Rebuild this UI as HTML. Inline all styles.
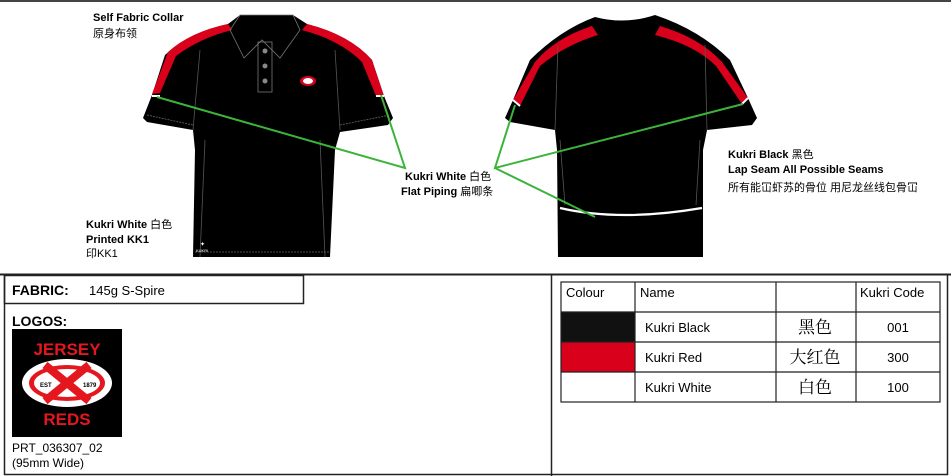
<!DOCTYPE html>
<html><head><meta charset="utf-8"><style>
body{margin:0;background:#fff;width:951px;height:476px;overflow:hidden;font-family:"Liberation Sans","Noto Sans CJK SC",sans-serif}
svg{position:absolute;left:0;top:0}
</style></head><body>
<svg width="951" height="476" viewBox="0 0 951 476" xmlns="http://www.w3.org/2000/svg" font-family="Liberation Sans, Noto Sans CJK SC, sans-serif">
<rect x="0" y="0" width="951" height="2" fill="#444"/>
<!-- FRONT SHIRT -->
<path d="M228,24 L240,15 L293,15 L307,24 Q350,35 372,60 L384,96 L393,118 L388,125 L340,132 L335,150 L330,257 L193,257 L195,150 L193,130 L147,122 L143,118 L152,95 L165,55 Q190,32 228,24 Z" fill="#000"/>
<path d="M228,24 Q190,32 168,52 L152,94 L160,93 L176,56 Q200,38 232,30 Z" fill="#d9001b"/>
<path d="M307,24 Q350,35 372,60 L384,96 L376,96 L362,62 Q340,40 302,30 Z" fill="#d9001b"/>
<path d="M240,15 L293,15 L300,30 L280,58 L262,40 L244,58 L230,30 Z" fill="none" stroke="#777" stroke-width="0.8"/>
<rect x="258" y="42" width="14" height="50" fill="none" stroke="#777" stroke-width="0.8"/>
<circle cx="265" cy="51" r="2.5" fill="#888"/><circle cx="265" cy="66" r="2.5" fill="#888"/><circle cx="265" cy="81" r="2.5" fill="#888"/>
<path d="M193,130 L200,50 M340,130 L335,50 M200,257 L205,140 M325,257 L320,140" stroke="#555" stroke-width="0.8" fill="none"/>
<path d="M147,115 L193,125 M340,125 L390,115 M195,252 L330,252" stroke="#666" stroke-width="0.8" stroke-dasharray="2,1" fill="none"/>
<ellipse cx="308" cy="81" rx="8" ry="5" fill="#d9001b"/><ellipse cx="308" cy="81" rx="5" ry="3" fill="#fff"/>
<text x="200" y="246" font-size="6" fill="#fff">✦</text><text x="196" y="252" font-size="4" fill="#fff">KUKRI</text>
<path d="M152,96 L160,96" stroke="#fff" stroke-width="2"/><path d="M376,96 L384,96" stroke="#fff" stroke-width="2"/>
<!-- BACK SHIRT -->
<path d="M595,17 Q625,25 655,15 Q700,30 730,60 L748,98 L757,118 L752,125 L707,130 L703,150 L703,257 L558,257 L557,150 L555,130 L510,122 L505,118 L513,100 L530,60 Q560,30 595,17 Z" fill="#000"/>
<path d="M592,26 Q555,38 535,62 L513,100 L520,106 L540,66 Q565,45 598,35 Z" fill="#d9001b"/>
<path d="M660,26 Q700,38 722,62 L748,98 L742,104 L716,66 Q695,45 655,35 Z" fill="#d9001b"/>
<path d="M560,208 Q620,222 702,208" stroke="#fff" stroke-width="2.2" fill="none"/>
<path d="M555,130 L558,45 M707,130 L705,45 M565,205 L560,140 M696,205 L700,140" stroke="#555" stroke-width="0.8" fill="none"/>
<path d="M513,100 L520,106 M748,98 L742,104" stroke="#fff" stroke-width="2"/>
<!-- Green leaders -->
<g stroke="#3cb43c" stroke-width="2" fill="none">
<path d="M157,97 L405,168 L381,95"/>
<path d="M515,105 L495,168 L743,104 M495,168 L595,217"/>
</g>
<!-- Labels -->
<g font-size="11" fill="#000">
<text x="93" y="21" font-weight="bold">Self Fabric Collar</text>
<text x="93" y="37">原身布领</text>
<text x="86" y="228" font-weight="bold">Kukri White <tspan font-weight="normal">白色</tspan></text>
<text x="86" y="243" font-weight="bold">Printed KK1</text>
<text x="86" y="257">印KK1</text>
<text x="405" y="180" font-weight="bold">Kukri White <tspan font-weight="normal">白色</tspan></text>
<text x="401" y="195" font-weight="bold">Flat Piping <tspan font-weight="normal">扁唧条</tspan></text>
<text x="728" y="158" font-weight="bold">Kukri Black <tspan font-weight="normal">黑色</tspan></text>
<text x="728" y="173" font-weight="bold">Lap Seam All Possible Seams</text>
<text x="728" y="191">所有能冚虾苏的骨位 用尼龙丝线包骨冚</text>
</g>
<!-- Frame -->
<g stroke="#222" fill="none">
<path d="M0,274.5 H951" stroke-width="2"/>
<path d="M4.5,274 V474.5 H947.5 V274" stroke-width="1.5"/>
<path d="M551.5,274 V476" stroke-width="1.5"/>
<rect x="4.5" y="275.5" width="299" height="28" stroke-width="1.5"/>
</g>
<text x="12" y="295" font-size="14" font-weight="bold">FABRIC:</text>
<text x="89" y="295" font-size="13">145g S-Spire</text>
<text x="12" y="326" font-size="14" font-weight="bold">LOGOS:</text>
<rect x="12" y="329" width="110" height="108" fill="#000"/>
<ellipse cx="67" cy="383" rx="45" ry="24" fill="#fff"/>
<ellipse cx="67" cy="383" rx="38" ry="18" fill="#e4171f"/>
<ellipse cx="67" cy="383" rx="33" ry="14" fill="#fff"/>
<path d="M45,365 L89,401 M89,365 L45,401" stroke="#e4171f" stroke-width="8"/>
<text x="67" y="355" font-size="17" font-weight="bold" fill="#e4171f" text-anchor="middle">JERSEY</text>
<text x="67" y="425" font-size="17" font-weight="bold" fill="#e4171f" text-anchor="middle">REDS</text>
<text x="40" y="387" font-size="6" font-weight="bold">EST</text>
<text x="83" y="387" font-size="6" font-weight="bold">1879</text>
<text x="12" y="452" font-size="12">PRT_036307_02</text>
<text x="12" y="467" font-size="12">(95mm Wide)</text>
<!-- Table -->
<rect x="561" y="312" width="74" height="30" fill="#111"/>
<rect x="561" y="342" width="74" height="30" fill="#d9001b"/>
<g stroke="#222" stroke-width="1.2" fill="none">
<rect x="561" y="282" width="379" height="120"/>
<path d="M561,312 H940 M561,342 H940 M561,372 H940 M635,282 V402 M776,282 V402 M856,282 V402"/>
</g>
<g font-size="13">
<text x="566" y="297">Colour</text>
<text x="640" y="297">Name</text>
<text x="860" y="297">Kukri Code</text>
<text x="645" y="332">Kukri Black</text>
<text x="645" y="362">Kukri Red</text>
<text x="645" y="392">Kukri White</text>
<text x="898" y="332" text-anchor="middle">001</text>
<text x="898" y="362" text-anchor="middle">300</text>
<text x="898" y="392" text-anchor="middle">100</text>
</g>
<g font-size="17" text-anchor="middle" font-family="Noto Serif CJK SC, serif">
<text x="815" y="333">黑色</text>
<text x="815" y="363">大红色</text>
<text x="815" y="393">白色</text>
</g>
</svg>
</body></html>
